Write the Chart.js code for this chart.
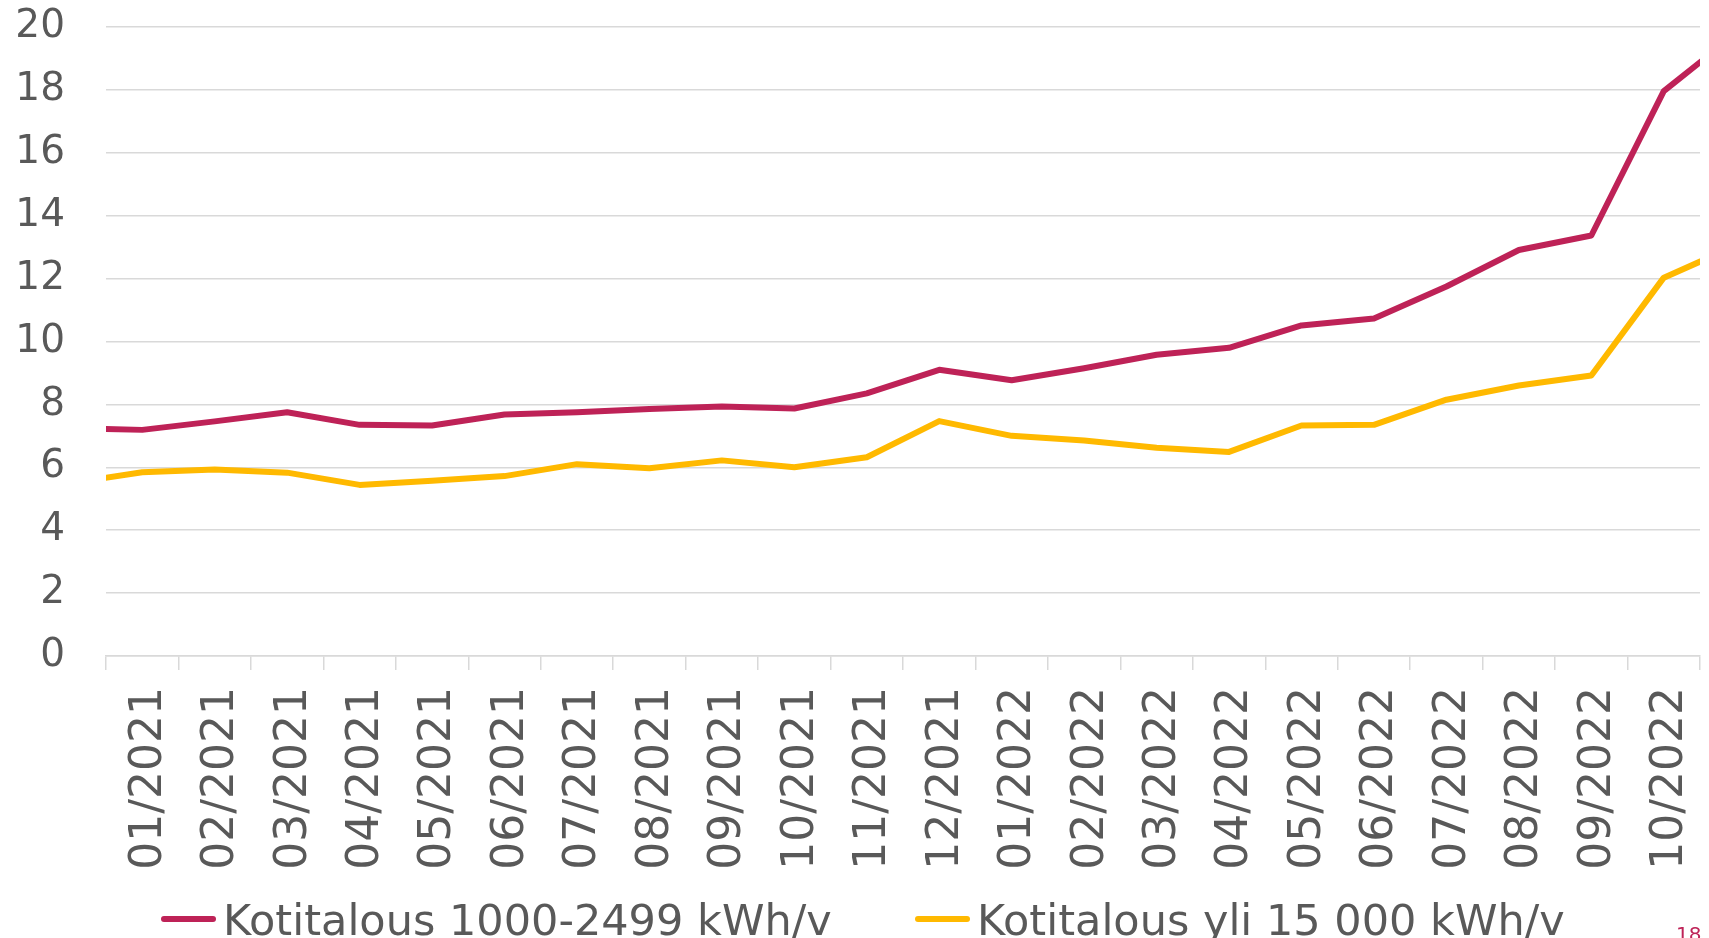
<!DOCTYPE html>
<html lang="fi">
<head>
<meta charset="utf-8">
<title>Sähkön hinta kotitalouksille</title>
<script src="https://cdn.jsdelivr.net/npm/chart.js@4.4.1/dist/chart.umd.min.js"></script>
<style>
  html, body { margin: 0; padding: 0; background: #fff; overflow: hidden; }
  #wrap { position: relative; width: 1709px; height: 938px; overflow: hidden; }
  #chart { position: absolute; left: 0; top: 0; }
  .legend-item { position: absolute; top: 899px; height: 43px; font-family: "DejaVu Sans", Verdana, sans-serif; font-size: 43px; line-height: 43px; color: #595959; white-space: nowrap; }
  .legend-line { position: absolute; left: 0; top: 17px; width: 55px; height: 6px; border-radius: 3px; }
  .legend-text { position: absolute; left: 62px; top: 0; }
  #sivu { position: absolute; left: 1676px; top: 924px; font-family: "DejaVu Sans", sans-serif; font-size: 20px; line-height: 20px; color: #be2257; }
</style>
</head>
<body>
<div id="wrap">
  <canvas id="chart" width="1709" height="938"></canvas>
  <div id="legend"></div>
  <div id="sivu">18</div>
</div>
<script>
// x-akselilla näkyvät kuukaudet
const kuukaudet = [
  '01/2021', '02/2021', '03/2021', '04/2021', '05/2021', '06/2021',
  '07/2021', '08/2021', '09/2021', '10/2021', '11/2021', '12/2021',
  '01/2022', '02/2022', '03/2022', '04/2022', '05/2022', '06/2022',
  '07/2022', '08/2022', '09/2022', '10/2022'
];

// arvot 12/2020 ... 11/2022 (reunimmaiset jäävät kuvan ulkopuolelle)
const pieniKulutus = [
  7.25, 7.19, 7.46, 7.75, 7.35, 7.33, 7.68, 7.75, 7.85, 7.93, 7.87, 8.35,
  9.10, 8.77, 9.15, 9.58, 9.80, 10.51, 10.73, 11.75, 12.91, 13.37, 17.96, 19.8
];
const suuriKulutus = [
  5.50, 5.84, 5.93, 5.83, 5.44, 5.57, 5.72, 6.10, 5.97, 6.22, 6.00, 6.32,
  7.47, 7.00, 6.85, 6.62, 6.49, 7.33, 7.35, 8.15, 8.60, 8.92, 12.03, 13.05
];

const sarjat = ['Kotitalous 1000-2499 kWh/v', 'Kotitalous yli 15 000 kWh/v'];
const yTicks = [0, 2, 4, 6, 8, 10, 12, 14, 16, 18, 20];

const punainen = '#be2257';
const keltainen = '#ffb900';
const tekstiVari = '#595959';
const viivaVari = '#d9d9d9';

function pisteet(arvot) {
  // ensimmäinen arvo on kuukausi ennen 01/2021 eli indeksi -1
  return arvot.map((v, i) => ({ x: i - 1, y: v }));
}

function sarja(nimi, arvot, vari) {
  return {
    label: nimi,
    data: pisteet(arvot),
    xAxisID: 'xd',
    borderColor: vari,
    backgroundColor: vari,
    borderWidth: 6,
    pointRadius: 0,
    tension: 0,
    borderJoinStyle: 'round',
    clip: 0
  };
}

const ctx = document.getElementById('chart').getContext('2d');

const chart = new Chart(ctx, {
  type: 'line',
  data: {
    labels: kuukaudet,
    datasets: [
      sarja(sarjat[0], pieniKulutus, punainen),
      sarja(sarjat[1], suuriKulutus, keltainen)
    ]
  },
  options: {
    responsive: false,
    animation: false,
    devicePixelRatio: 1,
    layout: { padding: { top: 27, right: 9, bottom: 0, left: 0 } },
    plugins: {
      legend: { display: false },
      tooltip: { enabled: false }
    },
    scales: {
      x: {
        type: 'category',
        offset: true,
        grid: {
          offset: true,
          drawOnChartArea: false,
          drawTicks: true,
          tickLength: 14,
          color: viivaVari,
          lineWidth: 1.5
        },
        border: { display: true, color: viivaVari, width: 1.5 },
        ticks: {
          autoSkip: false,
          minRotation: 90,
          maxRotation: 90,
          padding: 17,
          labelOffset: 7,
          color: tekstiVari,
          font: { family: '"DejaVu Sans", Verdana, sans-serif', size: 44 }
        },
        afterFit: (scale) => {
          scale.height = 282;
          scale.paddingLeft = 0;
          scale.paddingRight = 0;
        }
      },
      xd: {
        type: 'linear',
        axis: 'x',
        display: false,
        min: -0.5,
        max: kuukaudet.length - 0.5
      },
      y: {
        min: 0,
        max: 20,
        afterBuildTicks: (scale) => { scale.ticks = yTicks.map(v => ({ value: v })); },
        grid: { color: viivaVari, lineWidth: 1.5, drawTicks: false },
        border: { display: false },
        ticks: {
          padding: 41,
          color: tekstiVari,
          font: { family: '"DejaVu Sans", Verdana, sans-serif', size: 39 }
        },
        afterFit: (scale) => {
          scale.width = 106;
          scale.paddingTop = 0;
          scale.paddingBottom = 0;
        }
      }
    }
  }
});

// selite kuvan alareunaan
const legend = document.getElementById('legend');
const legendLeft = [161, 915];
chart.data.datasets.forEach((ds, i) => {
  const item = document.createElement('div');
  item.className = 'legend-item';
  item.style.left = legendLeft[i] + 'px';
  item.innerHTML = '<span class="legend-line" style="background:' + ds.borderColor + '"></span>' +
    '<span class="legend-text">' + ds.label + '</span>';
  legend.appendChild(item);
});
</script>
</body>
</html>
